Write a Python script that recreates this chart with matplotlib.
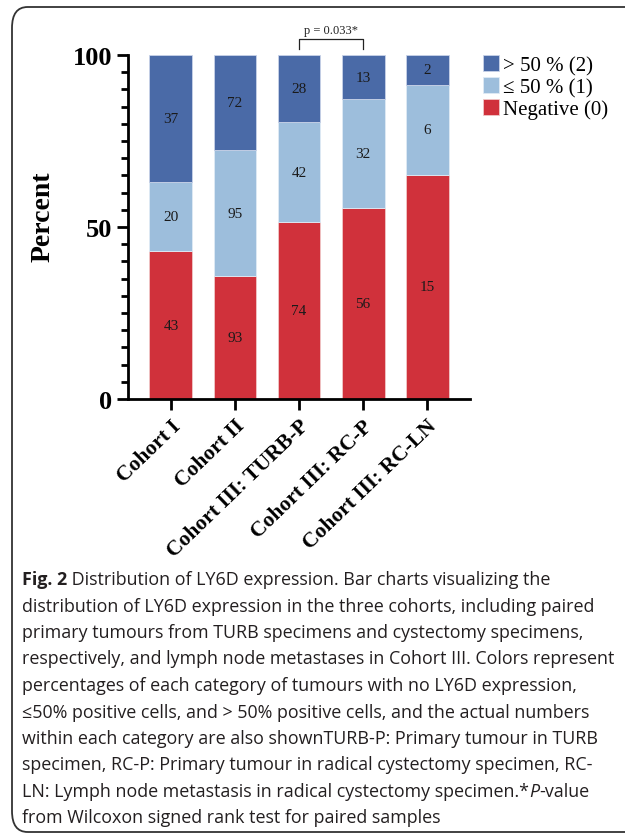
import numpy as np
import matplotlib.pyplot as plt
from matplotlib.patches import FancyBboxPatch
from matplotlib.ticker import MultipleLocator

# counts per category, from the numbers printed on the bars
GROUPS = ["Cohort I", "Cohort II", "Cohort III: TURB-P", "Cohort III: RC-P", "Cohort III: RC-LN"]
NEG = [43, 93, 74, 56, 15]
LOW = [20, 95, 42, 32, 6]
HIGH = [37, 72, 28, 13, 2]

C_NEG = "#d0313b"
C_LOW = "#9dbedc"
C_HIGH = "#4a6aa7"

CAPTION = [
    "distribution of LY6D expression in the three cohorts, including paired",
    "primary tumours from TURB specimens and cystectomy specimens,",
    "respectively, and lymph node metastases in Cohort III. Colors represent",
    "percentages of each category of tumours with no LY6D expression,",
    "\u226450% positive cells, and > 50% positive cells, and the actual numbers",
    "within each category are also shownTURB-P: Primary tumour in TURB",
    "specimen, RC-P: Primary tumour in radical cystectomy specimen, RC-",
]

neg = np.array(NEG, float)
low = np.array(LOW, float)
high = np.array(HIGH, float)
tot = neg + low + high
p_neg = neg / tot * 100
p_low = low / tot * 100
p_high = high / tot * 100

fig = plt.figure(figsize=(6.25, 8.37), dpi=100)
W, H = 625, 837

border = FancyBboxPatch((12 / W, 4 / H), 700 / W, 829 / H - 4 / H,
                        boxstyle="round,pad=0,rounding_size=0.025",
                        transform=fig.transFigure, fill=False,
                        edgecolor="#333333", linewidth=1.3)
fig.patches.append(border)

ax = fig.add_axes([128 / W, 1 - 400 / H, 342 / W, 344 / H])
x = np.arange(len(GROUPS))
bw = 0.67
serif = "Liberation Serif"

b1 = ax.bar(x, p_neg, bw, color=C_NEG, edgecolor="#f0c8c8", linewidth=0.6, label="Negative (0)")
b2 = ax.bar(x, p_low, bw, bottom=p_neg, color=C_LOW, edgecolor="#e0ebf5", linewidth=0.6, label="\u2264 50 % (1)")
b3 = ax.bar(x, p_high, bw, bottom=p_neg + p_low, color=C_HIGH, edgecolor="#c8d3e8", linewidth=0.6, label="> 50 % (2)")

for cont, lab in [(b1, NEG), (b2, LOW), (b3, HIGH)]:
    ax.bar_label(cont, labels=[str(v) for v in lab], label_type="center",
                 fontsize=11, family=serif, color="#1a1a1a")

ax.set_xlim(-0.67, len(GROUPS) - 1 + 0.67)
ax.set_ylim(0, 100)
ax.set_yticks([0, 50, 100])
ax.yaxis.set_minor_locator(MultipleLocator(5))
ax.tick_params(axis="y", which="major", length=8, width=2, labelsize=19)
ax.tick_params(axis="y", which="minor", length=5, width=2)
ax.tick_params(axis="x", length=8, width=2, pad=4)
for lbl in ax.get_yticklabels():
    lbl.set_family(serif)
    lbl.set_fontweight("bold")
ax.set_xticks(x)
ax.set_xticklabels(GROUPS, rotation=44, ha="right", rotation_mode="anchor",
                   family=serif, fontweight="bold", fontsize=15.5)
ax.set_ylabel("Percent", family=serif, fontweight="bold", fontsize=20)
ax.yaxis.set_label_coords(-0.213, 0.532)

for s in ["top", "right"]:
    ax.spines[s].set_visible(False)
for s in ["left", "bottom"]:
    ax.spines[s].set_linewidth(2)

# p-value bracket between TURB-P and RC-P
ax.plot([2, 2, 3, 3], [101.8, 104.6, 104.6, 101.8], color="#222222", lw=0.9, clip_on=False)
ax.text(2.5, 105.4, "p = 0.033*", ha="center", va="bottom", fontsize=9,
        family=serif, color="#222222")

handles = [b3, b2, b1]
leg = fig.legend(handles, [h.get_label() for h in handles], loc="upper left",
                 bbox_to_anchor=(483 / W, 1 - 56 / H), frameon=False,
                 prop={"family": serif, "size": 15}, handlelength=0.77,
                 handleheight=0.77, handletextpad=0.2, labelspacing=0.1,
                 borderpad=0, borderaxespad=0)

# caption
sans = "Open Sans"
fs = 12.85
ink = "#231f20"
y0 = 1 - 580 / H
dy = 26.5 / H
t = fig.text(22 / W, y0, "Fig. 2", family=sans, fontweight="bold", fontsize=fs,
             va="center", color=ink)
ax.annotate(" Distribution of LY6D expression. Bar charts visualizing the",
            xy=(1, 0.5), xycoords=t, va="center", ha="left",
            family=sans, fontsize=fs, color=ink, annotation_clip=False)
for i, line in enumerate(CAPTION):
    fig.text(22 / W, y0 - (i + 1) * dy, line, family=sans, fontsize=fs,
             va="center", color=ink)
t2 = fig.text(22 / W, y0 - 8 * dy, "LN: Lymph node metastasis in radical cystectomy specimen.*",
              family=sans, fontsize=fs, va="center", color=ink)
t3 = ax.annotate("P", xy=(1, 0.5), xycoords=t2, va="center", ha="left",
                 family=sans, fontsize=fs, style="italic", color=ink,
                 annotation_clip=False)
ax.annotate("-value", xy=(1, 0.5), xycoords=t3, va="center", ha="left",
            family=sans, fontsize=fs, color=ink, annotation_clip=False)
fig.text(22 / W, y0 - 9 * dy, "from Wilcoxon signed rank test for paired samples",
         family=sans, fontsize=fs, va="center", color=ink)

fig.savefig("out.png", dpi=100)
